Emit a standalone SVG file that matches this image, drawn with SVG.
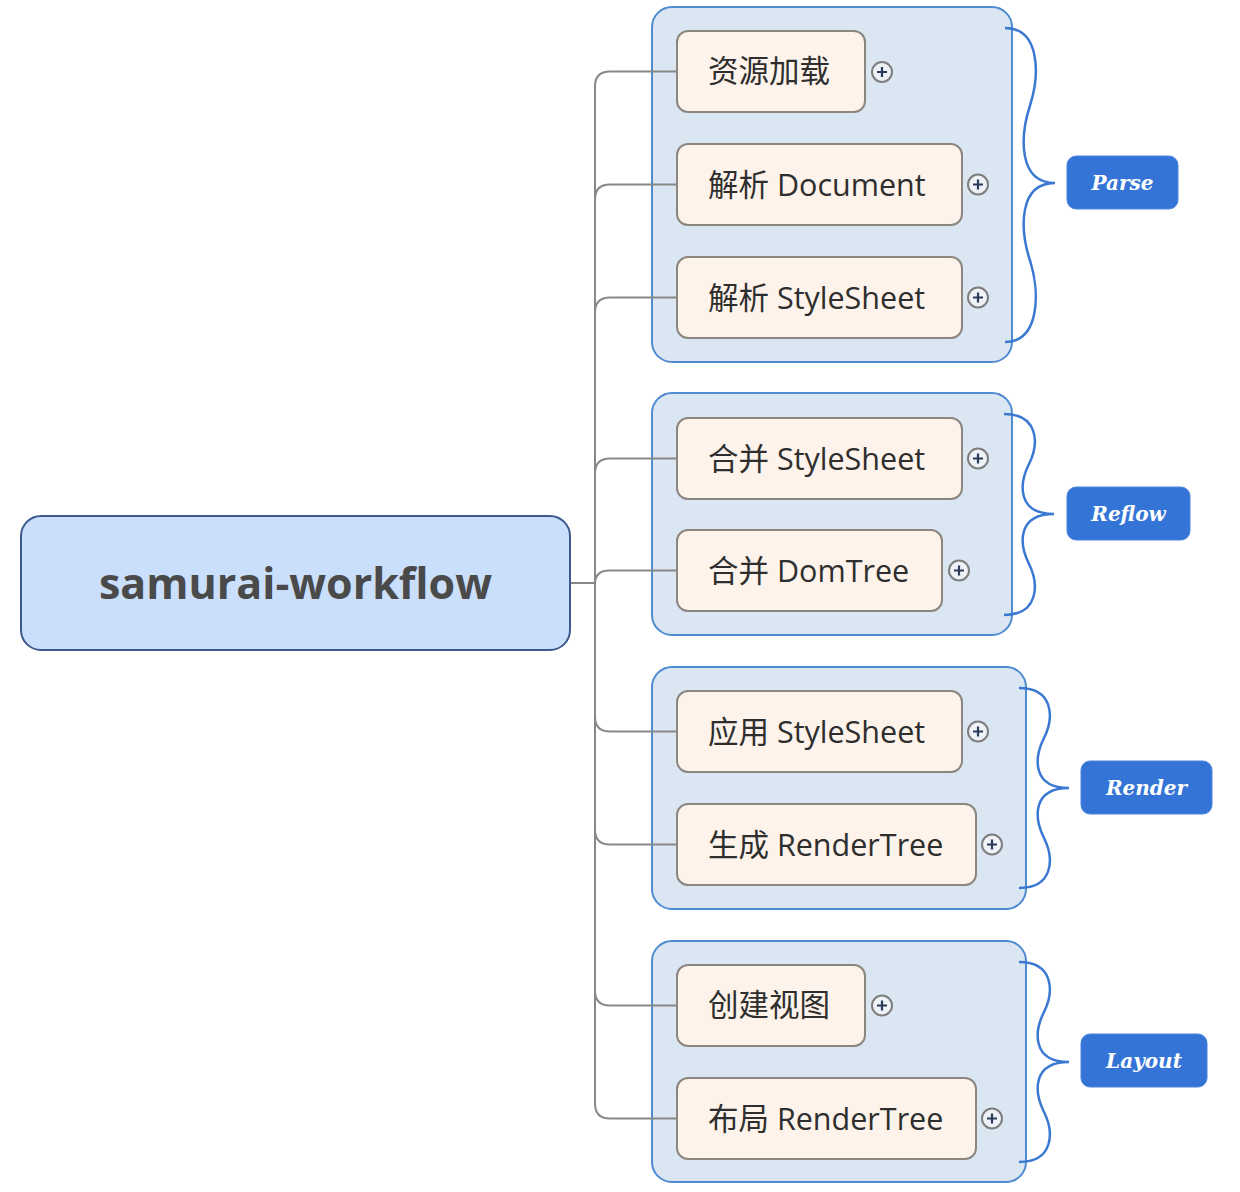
<svg xmlns="http://www.w3.org/2000/svg" width="1240" height="1192" viewBox="0 0 1240 1192">
<style>
.bg{fill:#ffffff}
.grp{fill:#dae6f2;stroke:#4f8bd0;stroke-width:2}
.node{fill:#fdf3ea;stroke:#8c8680;stroke-width:2}
.ntext{font-family:"Open Sans","Noto Sans CJK SC",sans-serif;font-size:30.5px;fill:#2e2e2e}
.root{fill:#cadffc;stroke:#3e5a8c;stroke-width:2}
.rtext{font-family:"Open Sans","Noto Sans CJK SC",sans-serif;font-size:43px;font-weight:bold;fill:#4a4a4a}
.conn{fill:none;stroke:#888888;stroke-width:2}
.brace{fill:none;stroke:#3a78d2;stroke-width:2.5}
.lbl{fill:#3374d6;stroke:#4a86dc;stroke-width:1}
.ltext{font-family:"DejaVu Serif",serif;font-style:italic;font-weight:bold;font-size:20px;fill:#ffffff}
.plus circle{fill:#eef2f7;stroke:#7e7e7e;stroke-width:2}
.plus path{stroke:#2d3b5a;stroke-width:2.2;fill:none}
</style>
<rect class="bg" x="0" y="0" width="1240" height="1192"/>

<g id="boundaries">
  <rect id="b-parse" class="grp" x="652" y="7" width="360" height="355" rx="20"/>
  <rect id="b-reflow" class="grp" x="652" y="393" width="360" height="242" rx="20"/>
  <rect id="b-render" class="grp" x="652" y="667" width="374" height="242" rx="20"/>
  <rect id="b-layout" class="grp" x="652" y="941" width="374" height="241" rx="20"/>
</g>

<g id="connectors">
  <path class="conn" d="M570,583 H595 V86.5 Q595,71.5 610,71.5 H677"/>
  <path class="conn" d="M595,583 V199.5 Q595,184.5 610,184.5 H677"/>
  <path class="conn" d="M595,583 V312.5 Q595,297.5 610,297.5 H677"/>
  <path class="conn" d="M595,583 V473.5 Q595,458.5 610,458.5 H677"/>
  <path class="conn" d="M595,584 Q595,570.5 609,570.5 H677"/>
  <path class="conn" d="M595,583 V716.5 Q595,731.5 610,731.5 H677"/>
  <path class="conn" d="M595,583 V829.5 Q595,844.5 610,844.5 H677"/>
  <path class="conn" d="M595,583 V990.5 Q595,1005.5 610,1005.5 H677"/>
  <path class="conn" d="M595,583 V1103.5 Q595,1118.5 610,1118.5 H677"/>
</g>

<g id="root">
  <rect class="root" x="21" y="516" width="549" height="134" rx="20"/>
  <text class="rtext" x="295.5" y="599" text-anchor="middle">samurai-workflow</text>
</g>

<g id="n1">
  <rect class="node" x="677" y="31" width="188" height="81" rx="11"/>
  <text class="ntext" x="708" y="82">资源加载</text>
  <g class="plus"><circle cx="882" cy="72" r="10"/><path d="M877,72 H887 M882,67 V77"/></g>
</g>
<g id="n2">
  <rect class="node" x="677" y="144" width="285" height="81" rx="11"/>
  <text class="ntext" x="708" y="196">解析 Document</text>
  <g class="plus"><circle cx="978" cy="184.5" r="10"/><path d="M973,184.5 H983 M978,179.5 V189.5"/></g>
</g>
<g id="n3">
  <rect class="node" x="677" y="257" width="285" height="81" rx="11"/>
  <text class="ntext" x="708" y="309">解析 StyleSheet</text>
  <g class="plus"><circle cx="978" cy="297.5" r="10"/><path d="M973,297.5 H983 M978,292.5 V302.5"/></g>
</g>
<g id="n4">
  <rect class="node" x="677" y="418" width="285" height="81" rx="11"/>
  <text class="ntext" x="708" y="470">合并 StyleSheet</text>
  <g class="plus"><circle cx="978" cy="458.5" r="10"/><path d="M973,458.5 H983 M978,453.5 V463.5"/></g>
</g>
<g id="n5">
  <rect class="node" x="677" y="530" width="265" height="81" rx="11"/>
  <text class="ntext" x="708" y="582">合并 DomTree</text>
  <g class="plus"><circle cx="959" cy="570.5" r="10"/><path d="M954,570.5 H964 M959,565.5 V575.5"/></g>
</g>
<g id="n6">
  <rect class="node" x="677" y="691" width="285" height="81" rx="11"/>
  <text class="ntext" x="708" y="743">应用 StyleSheet</text>
  <g class="plus"><circle cx="978" cy="731.5" r="10"/><path d="M973,731.5 H983 M978,726.5 V736.5"/></g>
</g>
<g id="n7">
  <rect class="node" x="677" y="804" width="299" height="81" rx="11"/>
  <text class="ntext" x="708" y="856">生成 RenderTree</text>
  <g class="plus"><circle cx="992" cy="844.5" r="10"/><path d="M987,844.5 H997 M992,839.5 V849.5"/></g>
</g>
<g id="n8">
  <rect class="node" x="677" y="965" width="188" height="81" rx="11"/>
  <text class="ntext" x="708" y="1016">创建视图</text>
  <g class="plus"><circle cx="882" cy="1005.5" r="10"/><path d="M877,1005.5 H887 M882,1000.5 V1010.5"/></g>
</g>
<g id="n9">
  <rect class="node" x="677" y="1078" width="299" height="81" rx="11"/>
  <text class="ntext" x="708" y="1130">布局 RenderTree</text>
  <g class="plus"><circle cx="992" cy="1118.5" r="10"/><path d="M987,1118.5 H997 M992,1113.5 V1123.5"/></g>
</g>

<g id="braces">
  <path class="brace" d="M1005,28 C1040,28 1040,74 1030,105.5 C1020,136.5 1018,183 1055,183 C1018,183 1020,229.5 1030,260.5 C1040,292 1040,342 1005,342"/>
  <path class="brace" d="M1004,414 C1039,414 1039,444 1029,464 C1019,484 1017,514 1054,514 C1017,514 1019,544 1029,564 C1039,584 1039,615 1004,615"/>
  <path class="brace" d="M1019,688 C1054,688 1054,718 1044,738 C1034,758 1032,788 1069,788 C1032,788 1034,818 1044,838 C1054,858 1054,888 1019,888"/>
  <path class="brace" d="M1019,962 C1054,962 1054,992 1044,1012 C1034,1032 1032,1062 1069,1062 C1032,1062 1034,1092 1044,1112 C1054,1132 1054,1162 1019,1162"/>
</g>

<g id="l-parse">
  <rect class="lbl" x="1067" y="156" width="111" height="53" rx="9"/>
  <text class="ltext" x="1122.5" y="190" text-anchor="middle">Parse</text>
</g>
<g id="l-reflow">
  <rect class="lbl" x="1067" y="487" width="123" height="53" rx="9"/>
  <text class="ltext" x="1128.5" y="521" text-anchor="middle">Reflow</text>
</g>
<g id="l-render">
  <rect class="lbl" x="1081" y="761" width="131" height="53" rx="9"/>
  <text class="ltext" x="1146.5" y="795" text-anchor="middle">Render</text>
</g>
<g id="l-layout">
  <rect class="lbl" x="1081" y="1034" width="126" height="53" rx="9"/>
  <text class="ltext" x="1144" y="1068" text-anchor="middle">Layout</text>
</g>
</svg>
